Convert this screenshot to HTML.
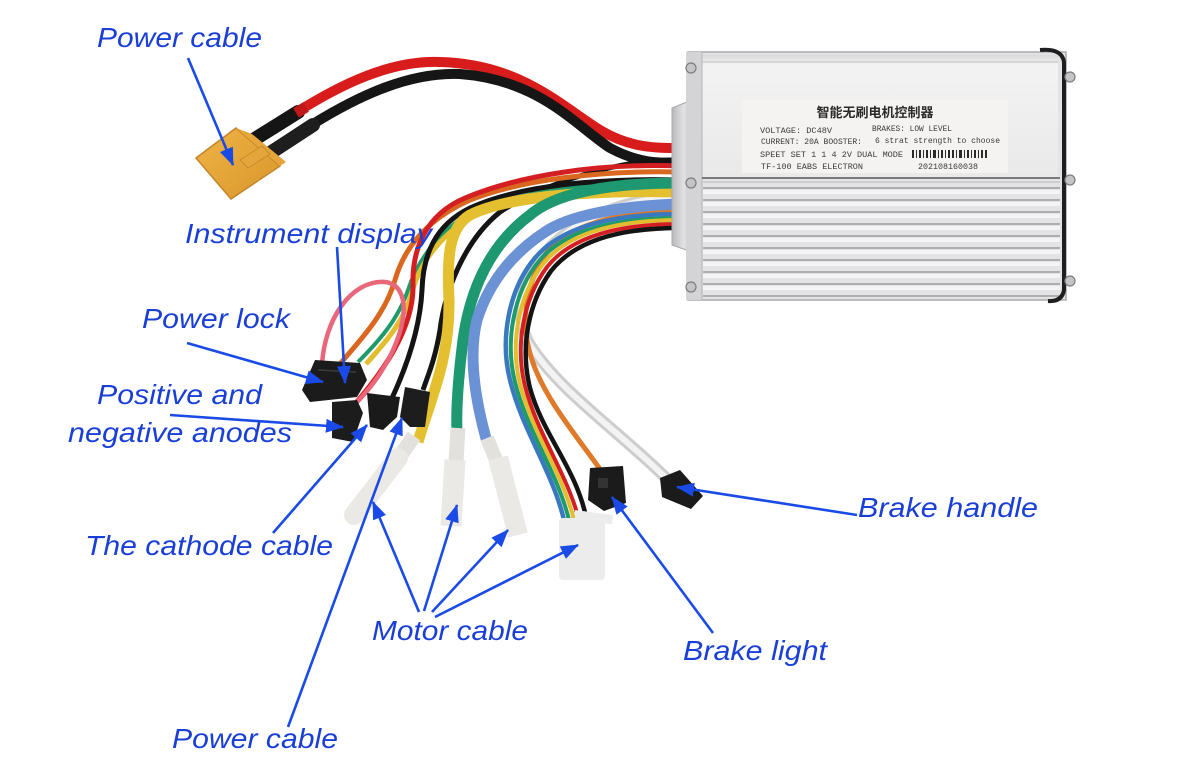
<!DOCTYPE html>
<html><head><meta charset="utf-8">
<style>
html,body{margin:0;padding:0;background:#fff;}
svg{display:block;}
.lbl{font-family:"Liberation Sans",Arial,sans-serif;font-style:italic;font-size:28px;fill:#1a3fd6;}
.lt{font-family:"Liberation Mono",monospace;font-size:8.5px;fill:#3a3a3a;}
</style></head>
<body>
<svg width="1178" height="781" viewBox="0 0 1178 781" xmlns="http://www.w3.org/2000/svg">
<defs>
<marker id="ah" viewBox="0 0 18 14" refX="17" refY="7" markerWidth="18" markerHeight="14" orient="auto" markerUnits="userSpaceOnUse">
<path d="M0,0 L18,7 L0,14 z" fill="#1a4be6"/>
</marker>
<linearGradient id="top" x1="0" y1="0" x2="0" y2="1">
<stop offset="0" stop-color="#d9d9db"/><stop offset="0.08" stop-color="#f3f3f4"/><stop offset="1" stop-color="#e9e9ea"/>
</linearGradient>
<linearGradient id="gland" x1="0" y1="0" x2="1" y2="0">
<stop offset="0" stop-color="#b9b9bb"/><stop offset="0.6" stop-color="#e2e2e4"/><stop offset="1" stop-color="#c9c9cb"/>
</linearGradient>
<linearGradient id="xt" x1="0" y1="0" x2="1" y2="1">
<stop offset="0" stop-color="#f0b445"/><stop offset="1" stop-color="#d8962c"/>
</linearGradient>
</defs>
<rect width="1178" height="781" fill="#fff"/>

<!-- ===== Power cable (red/black) ===== -->
<path d="M297,112 C340,85 390,60 440,62 C520,64 560,105 600,130 C630,148 655,148 680,148" fill="none" stroke="#d81c1c" stroke-width="10" stroke-linecap="round"/>
<path d="M313,124 C360,95 410,72 460,74 C540,80 575,125 610,148 C640,164 660,163 680,163" fill="none" stroke="#161616" stroke-width="10" stroke-linecap="round"/>
<!-- heat shrink -->
<line x1="250" y1="142" x2="298" y2="112" stroke="#151515" stroke-width="14" stroke-linecap="round"/>
<line x1="264" y1="157" x2="313" y2="125" stroke="#1e1e1e" stroke-width="14" stroke-linecap="round"/>
<line x1="296" y1="113" x2="306" y2="107" stroke="#c01818" stroke-width="11"/>
<!-- XT60 connector -->
<polygon points="196,158 236,128 280,166 231,199" fill="url(#xt)" stroke="#c4852a" stroke-width="1.5"/>
<polygon points="236,128 252,134 286,162 280,166" fill="#e6a53a"/>
<polygon points="240,160 262,146 270,154 248,168" fill="#e4a63c" stroke="#c98c2c" stroke-width="1"/>

<!-- ===== Left bundle wires ===== -->
<path d="M680,160 C620,158 540,185 500,212 C465,240 445,290 440,330 C435,360 428,375 423,390" fill="none" stroke="#141414" stroke-width="5"/>
<path d="M680,172 C600,170 520,180 470,200 C430,218 405,245 395,280 C385,315 360,340 340,364" fill="none" stroke="#d9671f" stroke-width="5"/>
<path d="M680,182 C600,182 520,190 474,212 C440,228 418,260 408,290 C398,320 378,342 358,362" fill="none" stroke="#1f9a6a" stroke-width="4"/>
<path d="M680,186 C600,186 520,194 478,214 C444,230 420,262 412,292 C404,322 384,344 366,364" fill="none" stroke="#e2bd2e" stroke-width="5"/>
<path d="M680,180 C600,178 520,185 470,208 C435,225 423,255 422,290 C420,330 405,370 392,398" fill="none" stroke="#141414" stroke-width="5"/>
<path d="M680,166 C600,163 520,175 465,198 C425,215 412,250 413,285 C414,330 380,375 355,404" fill="none" stroke="#d41f22" stroke-width="5"/>
<!-- pink loop -->
<path d="M322,364 C325,320 350,280 385,282 C412,285 410,330 377,378 C370,388 363,396 357,402" fill="none" stroke="#e8677a" stroke-width="4.5"/>

<!-- ===== White brake handle wire ===== -->
<path d="M680,196 C610,200 560,230 540,260 C520,290 515,320 530,345 C560,392 620,432 668,480" fill="none" stroke="#cdcdce" stroke-width="12" stroke-linecap="round"/>
<path d="M680,196 C610,200 560,230 540,260 C520,290 515,320 530,345 C560,392 620,432 668,480" fill="none" stroke="#f3f3f3" stroke-width="6" stroke-linecap="round"/>

<!-- ===== Orange brake light wire ===== -->
<path d="M680,210 C620,212 565,225 545,255 C525,285 520,325 532,360 C545,400 580,440 602,472" fill="none" stroke="#de7a2a" stroke-width="5"/>

<!-- ===== Hall bundle ===== -->
<path d="M680,214 C610,214 560,228 535,258 C508,290 500,340 510,380 C522,430 552,470 564,520" fill="none" stroke="#3a78c0" stroke-width="4.5"/>
<path d="M680,218 C610,218 563,232 539,261 C513,293 505,342 515,382 C527,431 557,471 569,520" fill="none" stroke="#1f9a6a" stroke-width="4"/>
<path d="M680,220 C612,220 566,235 543,264 C518,296 510,344 520,384 C532,432 562,472 574,520" fill="none" stroke="#e2bd2e" stroke-width="4"/>
<path d="M680,224 C614,224 570,238 547,267 C523,299 515,346 525,386 C537,434 567,473 579,520" fill="none" stroke="#d41f22" stroke-width="4"/>
<path d="M680,228 C616,228 574,242 551,271 C528,303 520,348 530,388 C543,436 578,470 587,522" fill="none" stroke="#141414" stroke-width="4.5"/>

<!-- ===== Motor wires (thick) ===== -->
<path d="M680,192 C600,190 510,195 470,215 C448,228 447,260 449,300 C450,360 430,400 418,442" fill="none" stroke="#e4c030" stroke-width="11"/>
<path d="M680,183 C620,183 560,190 530,215 C490,245 470,290 463,340 C458,380 456,410 457,432" fill="none" stroke="#1d9870" stroke-width="11"/>
<path d="M680,204 C620,206 570,215 545,232 C510,255 488,285 477,320 C467,360 478,410 487,442" fill="none" stroke="#6b92d4" stroke-width="11"/>

<!-- ===== Motor tubes ===== -->
<line x1="414" y1="436" x2="396" y2="462" stroke="#e3e1de" stroke-width="15"/>
<line x1="398" y1="458" x2="354" y2="515" stroke="#ebe9e6" stroke-width="20" stroke-linecap="round"/>
<line x1="458" y1="428" x2="456" y2="462" stroke="#e3e1de" stroke-width="15"/>
<line x1="455" y1="460" x2="451" y2="526" stroke="#ebe9e6" stroke-width="21"/>
<line x1="487" y1="438" x2="496" y2="460" stroke="#e3e1de" stroke-width="14"/>
<line x1="498" y1="458" x2="518" y2="535" stroke="#ebe9e6" stroke-width="20"/>
<!-- Hall block -->
<polygon points="575,510 613,515 612,524 575,522" fill="#ececec"/>
<rect x="559" y="518" width="46" height="62" rx="4" fill="#ececec"/>

<!-- ===== Black connectors ===== -->
<polygon points="302,390 315,360 360,363 367,380 357,397 310,402" fill="#1b1b1b"/>
<line x1="318" y1="370" x2="356" y2="372" stroke="#3c3c3c" stroke-width="1.5"/>
<polygon points="332,402 357,400 363,413 353,442 332,438" fill="#1c1c1c"/>
<polygon points="367,393 400,397 397,417 383,430 370,427" fill="#1a1a1a"/>
<polygon points="405,387 430,392 425,427 410,427 400,417" fill="#1d1d1d"/>
<polygon points="590,468 623,466 626,503 604,511 588,500" fill="#1b1b1b"/>
<rect x="598" y="478" width="10" height="10" fill="#333"/>
<polygon points="660,478 680,470 703,496 691,509 662,497" fill="#1b1b1b"/>

<!-- ===== Controller ===== -->
<polygon points="672,108 692,100 692,252 672,245" fill="url(#gland)" stroke="#a8a8aa" stroke-width="1"/>
<rect x="688" y="52" width="378" height="248" fill="#e3e3e5" stroke="#a9a9ab" stroke-width="1.5"/>
<rect x="702" y="55" width="356" height="122" fill="url(#top)"/>
<line x1="702" y1="62" x2="1058" y2="62" stroke="#cfcfd1" stroke-width="1.5"/>
<rect x="686" y="52" width="16" height="248" fill="#d4d4d6"/>
<line x1="702" y1="52" x2="702" y2="300" stroke="#b5b5b7" stroke-width="1"/>
<line x1="702" y1="178" x2="1060" y2="178" stroke="#7a7a7c" stroke-width="2"/>
<line x1="702" y1="182" x2="1060" y2="182" stroke="#c8c8ca" stroke-width="1.5"/>
<g stroke="#9d9d9f" stroke-width="1.6">
<line x1="703" y1="188" x2="1060" y2="188"/><line x1="703" y1="200" x2="1060" y2="200"/>
<line x1="703" y1="212" x2="1060" y2="212"/><line x1="703" y1="224" x2="1060" y2="224"/>
<line x1="703" y1="236" x2="1060" y2="236"/><line x1="703" y1="248" x2="1060" y2="248"/>
<line x1="703" y1="260" x2="1060" y2="260"/><line x1="703" y1="272" x2="1060" y2="272"/>
<line x1="703" y1="284" x2="1060" y2="284"/><line x1="703" y1="296" x2="1060" y2="296"/>
</g>
<g fill="#f4f4f5">
<rect x="703" y="190" width="357" height="4"/><rect x="703" y="202" width="357" height="4"/>
<rect x="703" y="214" width="357" height="4"/><rect x="703" y="226" width="357" height="4"/>
<rect x="703" y="238" width="357" height="4"/><rect x="703" y="250" width="357" height="4"/>
<rect x="703" y="262" width="357" height="4"/><rect x="703" y="274" width="357" height="4"/>
<rect x="703" y="286" width="357" height="4"/>
</g>
<path d="M1040,50 Q1062,48 1064,62 L1064,290 Q1062,302 1048,301" fill="none" stroke="#1e1e1e" stroke-width="4"/>
<g fill="#c4c4c6" stroke="#7d7d7f" stroke-width="1.2">
<circle cx="691" cy="68" r="5"/><circle cx="691" cy="183" r="5"/><circle cx="691" cy="287" r="5"/>
<circle cx="1070" cy="77" r="5"/><circle cx="1070" cy="180" r="5"/><circle cx="1070" cy="281" r="5"/>
</g>
<!-- label -->
<rect x="742" y="100" width="266" height="73" fill="#f5f3f2"/>
<text x="875" y="117" text-anchor="middle" font-family="'Noto Sans CJK SC','WenQuanYi Zen Hei',sans-serif" font-size="13" font-weight="bold" fill="#2a2a2a">智能无刷电机控制器</text>
<text class="lt" x="760" y="133" textLength="72" lengthAdjust="spacingAndGlyphs">VOLTAGE: DC48V</text>
<text class="lt" x="872" y="131" textLength="80" lengthAdjust="spacingAndGlyphs">BRAKES: LOW LEVEL</text>
<text class="lt" x="761" y="144" textLength="101" lengthAdjust="spacingAndGlyphs">CURRENT: 20A BOOSTER:</text>
<text class="lt" x="875" y="143" textLength="125" lengthAdjust="spacingAndGlyphs">6 strat strength to choose</text>
<text class="lt" x="760" y="157" textLength="143" lengthAdjust="spacingAndGlyphs">SPEET SET 1 1 4 2V DUAL MODE</text>
<g fill="#2a2a2a">
<rect x="912" y="150" width="2" height="8"/><rect x="916" y="150" width="1" height="8"/><rect x="919" y="150" width="2" height="8"/>
<rect x="923" y="150" width="1" height="8"/><rect x="926" y="150" width="2" height="8"/><rect x="930" y="150" width="1" height="8"/>
<rect x="933" y="150" width="3" height="8"/><rect x="938" y="150" width="1" height="8"/><rect x="941" y="150" width="2" height="8"/>
<rect x="945" y="150" width="1" height="8"/><rect x="948" y="150" width="2" height="8"/><rect x="952" y="150" width="2" height="8"/>
<rect x="956" y="150" width="1" height="8"/><rect x="959" y="150" width="3" height="8"/><rect x="964" y="150" width="1" height="8"/>
<rect x="967" y="150" width="2" height="8"/><rect x="971" y="150" width="1" height="8"/><rect x="974" y="150" width="2" height="8"/>
<rect x="978" y="150" width="1" height="8"/><rect x="981" y="150" width="2" height="8"/><rect x="985" y="150" width="2" height="8"/>
</g>
<text class="lt" x="761" y="169" textLength="102" lengthAdjust="spacingAndGlyphs">TF-100 EABS ELECTRON</text>
<text class="lt" x="918" y="169" textLength="60" lengthAdjust="spacingAndGlyphs">202108160038</text>

<!-- ===== Arrows ===== -->
<g stroke="#1a4be6" stroke-width="2.6" fill="none" marker-end="url(#ah)">
<line x1="188" y1="58" x2="233" y2="165"/>
<line x1="337" y1="247" x2="345" y2="383"/>
<line x1="187" y1="343" x2="323" y2="382"/>
<line x1="170" y1="415" x2="343" y2="427"/>
<line x1="273" y1="533" x2="367" y2="425"/>
<line x1="288" y1="727" x2="402" y2="418"/>
<line x1="419" y1="612" x2="373" y2="502"/>
<line x1="424" y1="611" x2="457" y2="505"/>
<line x1="432" y1="612" x2="508" y2="530"/>
<line x1="435" y1="617" x2="578" y2="545"/>
<line x1="713" y1="633" x2="612" y2="497"/>
<line x1="857" y1="515" x2="677" y2="487"/>
</g>

<!-- ===== Labels ===== -->
<text class="lbl" x="97" y="47" textLength="165" lengthAdjust="spacingAndGlyphs">Power cable</text>
<text class="lbl" x="185" y="243" textLength="247" lengthAdjust="spacingAndGlyphs">Instrument display</text>
<text class="lbl" x="142" y="328" textLength="148" lengthAdjust="spacingAndGlyphs">Power lock</text>
<text class="lbl" x="97" y="404" textLength="165" lengthAdjust="spacingAndGlyphs">Positive and</text>
<text class="lbl" x="68" y="442" textLength="224" lengthAdjust="spacingAndGlyphs">negative anodes</text>
<text class="lbl" x="85" y="555" textLength="248" lengthAdjust="spacingAndGlyphs">The cathode cable</text>
<text class="lbl" x="372" y="640" textLength="156" lengthAdjust="spacingAndGlyphs">Motor cable</text>
<text class="lbl" x="172" y="748" textLength="166" lengthAdjust="spacingAndGlyphs">Power cable</text>
<text class="lbl" x="858" y="517" textLength="180" lengthAdjust="spacingAndGlyphs">Brake handle</text>
<text class="lbl" x="683" y="660" textLength="144" lengthAdjust="spacingAndGlyphs">Brake light</text>
</svg>
</body></html>
